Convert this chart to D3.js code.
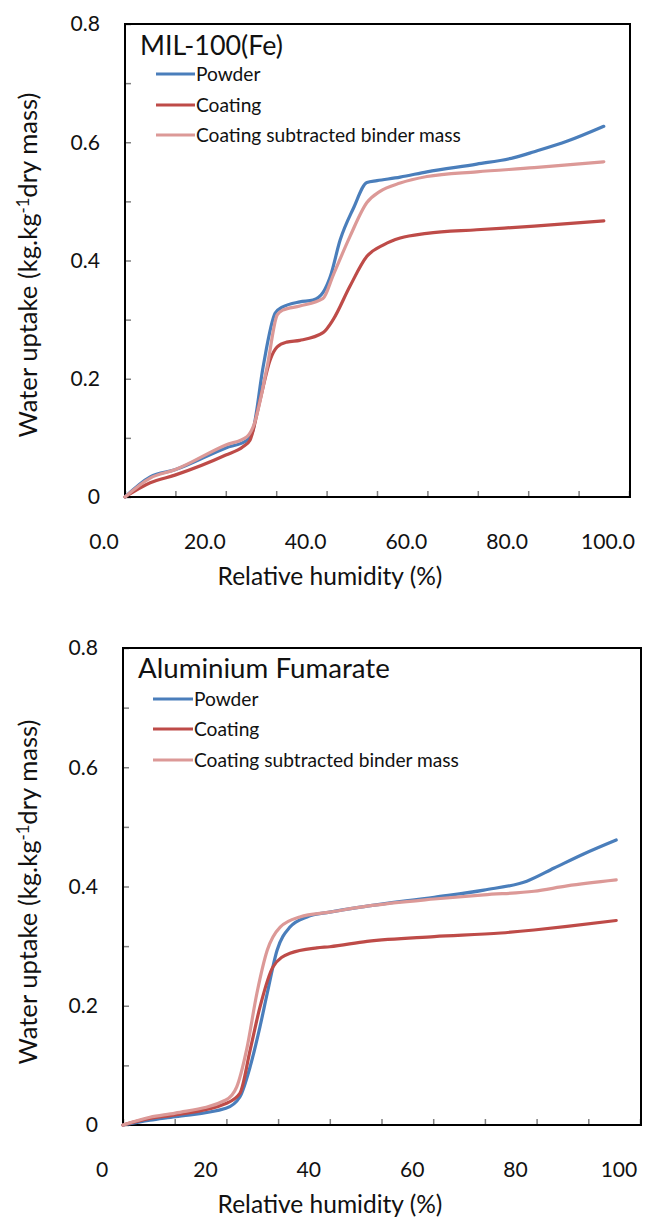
<!DOCTYPE html>
<html><head><meta charset="utf-8">
<script src="https://cdn.jsdelivr.net/npm/d3@7"></script>
<style>html,body{margin:0;padding:0;background:#fff;}svg{display:block;font-family:Lato,"Open Sans",sans-serif;}</style>
</head><body>
<svg id="chart" width="646" height="1220"></svg>
<script>
// ---------- DATA ----------
const seriesNames = ["Powder", "Coating", "Coating subtracted binder mass"];
const seriesColors = ["#4a7ebb", "#be4b48", "#dc9997"];

// MIL-100(Fe) — relative humidity (%) and water uptake (kg/kg)
const milPowderRH = [0,5.0,9.9,20.0,24.2,25.4,27.4,29.8,31.2,34.7,37.3,39.3,40.7,42.7,45.3,48.0,50.0,54.6,59.9,69.8,77.2,81.2,87.8,95.0];
const milPowderU  = [0,0.034,0.046,0.083,0.096,0.113,0.220,0.311,0.321,0.330,0.333,0.346,0.372,0.435,0.488,0.532,0.535,0.541,0.550,0.563,0.574,0.584,0.602,0.627];
const milCoatRH = [0,5.0,9.9,20.0,23.4,24.8,26.8,28.8,30.2,32.1,34.7,39.3,41.3,44.6,48.0,51.4,54.6,59.9,69.8,81.2,95.0];
const milCoatU  = [0,0.024,0.037,0.071,0.085,0.096,0.164,0.232,0.254,0.262,0.265,0.278,0.300,0.356,0.407,0.427,0.438,0.446,0.452,0.458,0.467];
const milSubRH = [0,5.0,9.9,20.0,24.2,25.4,28.2,30.2,31.3,34.7,39.3,41.3,44.6,48.0,50.6,54.6,59.9,69.8,81.2,95.0];
const milSubU  = [0,0.032,0.046,0.088,0.102,0.118,0.220,0.308,0.316,0.323,0.336,0.375,0.440,0.498,0.517,0.531,0.542,0.550,0.557,0.567];

// Aluminium Fumarate
const alfPowderRH = [0,5.2,10.1,19.9,22.6,24.6,26.5,27.9,29.8,32.3,35.6,40.0,47.2,60.2,69.8,78.1,83.4,89.2,95.4];
const alfPowderU  = [0,0.008,0.014,0.028,0.047,0.098,0.165,0.221,0.293,0.332,0.349,0.357,0.367,0.382,0.394,0.409,0.431,0.455,0.478];
const alfCoatRH = [0,5.2,10.1,19.9,22.6,24.6,26.5,29.0,32.3,37.5,40.0,47.2,60.2,73.1,79.5,85.9,95.4];
const alfCoatU  = [0,0.011,0.017,0.036,0.053,0.126,0.198,0.265,0.288,0.297,0.299,0.308,0.316,0.322,0.327,0.333,0.343];
const alfSubRH = [0,5.2,10.1,19.9,22.0,23.9,25.9,27.9,30.4,34.2,40.0,47.2,60.2,69.8,79.5,85.9,95.4];
const alfSubU  = [0,0.013,0.020,0.042,0.064,0.126,0.221,0.293,0.332,0.349,0.357,0.367,0.379,0.386,0.392,0.401,0.411];

const yTicks = [0,0.1,0.2,0.3,0.4,0.5,0.6,0.7,0.8];
const yLabels = {0:"0",0.2:"0.2",0.4:"0.4",0.6:"0.6",0.8:"0.8"};
const xTicks = [0,10,20,30,40,50,60,70,80,90,100];
const xLabelValues = [0,20,40,60,80,100];
const topXLabels = ["0.0","20.0","40.0","60.0","80.0","100.0"];
const botXLabels = ["0","20","40","60","80","100"];
const chartTitles = ["MIL-100(Fe)", "Aluminium Fumarate"];
const xTitle = "Relative humidity (%)";

// ---------- LAYOUT ----------
const svg = d3.select("#chart");
const zip = (a,b) => a.map((v,i)=>[v,b[i]]);

function fitFont(sel, target, base){
  sel.style("font-size", base+"px");
  const l = sel.node().getComputedTextLength();
  const s = base*target/l;
  sel.style("font-size", s+"px");
  return s;
}

const probe = svg.append("text").text("100.0");
const tickFs = fitFont(probe, 54, 20);
probe.text("Coating subtracted binder mass");
const legFs = fitFont(probe, 265, 20);
probe.text(xTitle);
const axFs = fitFont(probe, 225, 20);
probe.remove();

const panels = [
  {title: chartTitles[0], L:125, R:629, T:24, B:497, xl: topXLabels, titleW:143, titleX:140, titleY:55,
   lx1:156, lx2:195, ly:[74,105,135], yc:265,
   series:[zip(milPowderRH,milPowderU), zip(milCoatRH,milCoatU), zip(milSubRH,milSubU)]},
  {title: chartTitles[1], L:123, R:640, T:648, B:1125, xl: botXLabels, titleW:252, titleX:138, titleY:678,
   lx1:153, lx2:193, ly:[699,729,760], yc:892,
   series:[zip(alfPowderRH,alfPowderU), zip(alfCoatRH,alfCoatU), zip(alfSubRH,alfSubU)]}
];

panels.forEach(p => {
  const x = d3.scaleLinear().domain([0,100]).range([p.L, p.R]);
  const y = d3.scaleLinear().domain([0,0.8]).range([p.B, p.T]);
  const g = svg.append("g");

  const ya = g.append("g").attr("transform", `translate(${p.L},0)`)
    .call(d3.axisLeft(y).tickValues(yTicks).tickSize(-6).tickSizeOuter(0).tickPadding(25)
      .tickFormat(d => { const k = Math.round(d*10)/10; return yLabels[k] !== undefined ? yLabels[k] : ""; }));
  ya.select(".domain").remove();
  ya.selectAll("line").attr("stroke","#808080").attr("stroke-width",1.5);
  ya.selectAll("text").attr("fill","#111").style("font-size", tickFs+"px").style("font-family","Lato");

  const xa = g.append("g").attr("transform", `translate(0,${p.B})`)
    .call(d3.axisBottom(x).tickValues(xTicks).tickSize(-6).tickSizeOuter(0).tickFormat(""));
  xa.select(".domain").remove();
  xa.selectAll("line").attr("stroke","#808080").attr("stroke-width",1.5);

  g.selectAll(".xl").data(xLabelValues).join("text")
    .attr("x", d => x(d) - 21).attr("y", p.B + 52)
    .attr("text-anchor","middle").attr("fill","#111").style("font-size", tickFs+"px")
    .text((d,i) => p.xl[i]);

  g.append("rect").attr("x", p.L).attr("y", p.T).attr("width", p.R - p.L + 1).attr("height", p.B - p.T)
    .attr("fill","none").attr("stroke","#000").attr("stroke-width",2);

  const line = d3.line().x(d => x(d[0])).y(d => y(d[1])).curve(d3.curveMonotoneX);
  p.series.forEach((s,i) => {
    g.append("path").datum(s).attr("d", line).attr("fill","none")
      .attr("stroke", seriesColors[i]).attr("stroke-width",3.2)
      .attr("stroke-linejoin","round").attr("stroke-linecap","round");
  });

  const t = g.append("text").attr("x", p.titleX).attr("y", p.titleY).attr("fill","#111").text(p.title);
  fitFont(t, p.titleW, 24);

  seriesNames.forEach((n,i) => {
    g.append("line").attr("x1", p.lx1).attr("x2", p.lx2).attr("y1", p.ly[i]).attr("y2", p.ly[i])
      .attr("stroke", seriesColors[i]).attr("stroke-width",3.2);
    g.append("text").attr("x", p.lx2 + 1).attr("y", p.ly[i] + 6.5).attr("fill","#111")
      .style("font-size", legFs+"px").text(n);
  });

  g.append("text").attr("x", 330).attr("y", p.B + 88).attr("text-anchor","middle").attr("fill","#111")
    .style("font-size", axFs+"px").text(xTitle);
  const yt = g.append("text").attr("transform", `translate(37,${p.yc}) rotate(-90)`)
    .attr("text-anchor","middle").attr("fill","#111");
  yt.append("tspan").text("Water uptake (kg.kg");
  yt.append("tspan").attr("dy", -8).style("font-size","0.65em").text("-1");
  yt.append("tspan").attr("dy", 8).text("dry mass)");
  fitFont(yt, 345, 20);
});
</script>
</body></html>
